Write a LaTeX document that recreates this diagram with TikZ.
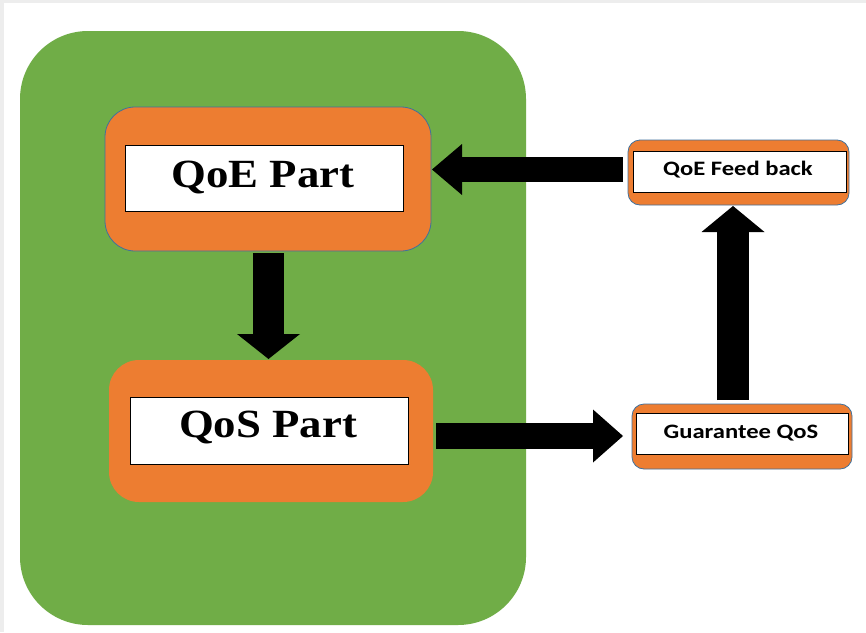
\documentclass[tikz,border=0pt]{standalone}
\usepackage{fontspec}
\usepackage{graphicx}
\setmainfont{Liberation Serif}
\newfontfamily\calib{Carlito}
\usetikzlibrary{arrows.meta}
\definecolor{bggreen}{HTML}{70AD47}
\definecolor{boxorange}{HTML}{ED7D31}
\definecolor{edgeblue}{HTML}{41719C}
\definecolor{framegray}{HTML}{EDEDED}
\tikzset{
  outerbox/.style={fill=boxorange, minimum width=#1, inner sep=0pt, outer sep=0pt},
  innerbox/.style={fill=white, draw=black, line width=0.9pt, inner sep=0pt, outer sep=0pt},
  bigtext/.style={font=\fontsize{40}{40}\selectfont\bfseries},
  smalltext/.style={font=\calib\fontsize{20.5}{20.5}\selectfont\bfseries},
  blockarrow/.style={draw=black, line width=#1}
}
\begin{document}
\begin{tikzpicture}[x=1pt,y=-1pt]
\useasboundingbox (0,0) rectangle (866,632);
\fill[white] (0,0) rectangle (866,632);
\fill[framegray] (0,0) rectangle (866,3);
\fill[framegray] (0,0) rectangle (4,632);
% green container
\node[fill=bggreen, rounded corners=68pt, minimum width=506pt, minimum height=594pt, inner sep=0pt, outer sep=0pt] (bg) at (273,328) {};
% QoE part
\node[outerbox=326pt, minimum height=144pt, rounded corners=30pt, draw=edgeblue, line width=0.8pt] (qoeo) at (268,179) {};
\node[innerbox, minimum width=278pt, minimum height=66pt] (qoei) at (264,178) {};
\node[bigtext] (qoet) at (263,177) {\scalebox{1.12}[1]{QoE Part}};
% QoS part
\node[outerbox=324pt, minimum height=142pt, rounded corners=30pt] (qoso) at (271,431) {};
\node[innerbox, minimum width=278pt, minimum height=67pt] (qosi) at (269,430.5) {};
\node[bigtext] (qost) at (268,427) {\scalebox{1.12}[1]{QoS Part}};
% QoE Feed back
\node[outerbox=221pt, minimum height=65pt, rounded corners=12pt, draw=edgeblue, line width=0.8pt] (fbo) at (738.5,172.5) {};
\node[innerbox, minimum width=213pt, minimum height=41pt] (fbi) at (739.5,171.5) {};
\node[smalltext] (fbt) at (738,170) {\scalebox{1.2}[1]{QoE Feed back}};
% Guarantee QoS
\node[outerbox=220pt, minimum height=65pt, rounded corners=12pt, draw=edgeblue, line width=0.8pt] (gqo) at (742,436.5) {};
\node[innerbox, minimum width=212pt, minimum height=41pt] (gqi) at (742,433.5) {};
\node[smalltext] (gqt) at (741,433) {\scalebox{1.2}[1]{Guarantee QoS}};
% arrows
\draw[blockarrow=25pt, -{Triangle[length=30pt,width=51pt,line width=0pt]}]
  ([shift={(-5,-3)}]fbo.west) -- ([shift={(1,-9.5)}]qoeo.east);
\draw[blockarrow=31pt, -{Triangle[length=25pt,width=63pt,line width=0pt]}]
  ([shift={(0.5,2)}]qoeo.south) -- ([shift={(-2.5,-1)}]qoso.north);
\draw[blockarrow=26pt, -{Triangle[length=30pt,width=53pt,line width=0pt]}]
  ([shift={(3,5)}]qoso.east) -- ([shift={(-9,-0.5)}]gqo.west);
\draw[blockarrow=32pt, -{Triangle[length=26pt,width=63pt,line width=0pt]}]
  ([shift={(-9,-4)}]gqo.north) -- ([shift={(-5.5,1)}]fbo.south);
\end{tikzpicture}
\end{document}
